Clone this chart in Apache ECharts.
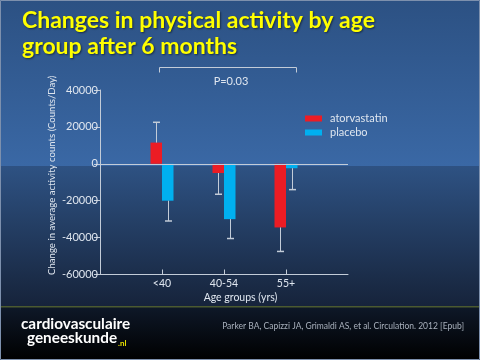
<!DOCTYPE html>
<html><head><meta charset="utf-8">
<script src="https://cdn.jsdelivr.net/npm/echarts@6/dist/echarts.min.js"></script>
<style>html,body{margin:0;padding:0;background:#000}#c{width:480px;height:360px}</style>
</head><body><div id="c"></div>
<script>
const categories = ['<40', '40-54', '55+'];
const atorvastatin = [11500, -5000, -34500];
const placebo = [-20000, -30000, -2400];
const atorvastatinErr = [22500, -16500, -47500];
const placeboErr = [-31000, -40500, -14000];
const yMin = -60000, yMax = 40000, yStep = 20000;

const axisData = [''].concat(categories, ['']);
const pad = arr => ['-'].concat(arr, ['-']);
const errData = (vals, errs) => vals.map((v, i) => [i + 1, v, errs[i]]);

const txt = '#dfe6ef';
const lineCol = '#c3ccd8';
const FONT = 'Lato';

function errItem(offset) {
  return function (params, api) {
    const a = api.coord([api.value(0), api.value(1)]);
    const e = api.coord([api.value(0), api.value(2)]);
    const cx = Math.round(a[0] + offset) + 0.5;
    return { type: 'group', children: [
      { type: 'line', shape: { x1: cx, y1: a[1], x2: cx, y2: e[1] }, style: { stroke: lineCol, lineWidth: 1 } },
      { type: 'line', shape: { x1: cx - 3.5, y1: e[1], x2: cx + 3.5, y2: e[1] }, style: { stroke: lineCol, lineWidth: 1.5 } }
    ]};
  };
}

const chart = echarts.init(document.getElementById('c'), null, { renderer: 'canvas' });
chart.setOption({
  animation: false,
  backgroundColor: '#000',
  textStyle: { fontFamily: FONT },
  title: {
    text: 'Changes in physical activity by age\ngroup after 6 months',
    left: 17, top: 3,
    textStyle: { color: '#ffff00', fontSize: 23, fontWeight: 'bold', fontFamily: FONT, lineHeight: 26,
      textShadowColor: 'rgba(0,0,0,0.5)', textShadowBlur: 2, textShadowOffsetX: 1, textShadowOffsetY: 1 }
  },
  legend: {
    orient: 'vertical', left: 300, top: 108, itemWidth: 17, itemHeight: 6, itemGap: 3,
    icon: 'rect',
    textStyle: { color: txt, fontSize: 11, fontFamily: FONT, padding: [0, 0, 0, 3] },
    data: ['atorvastatin', 'placebo']
  },
  grid: { left: 100, right: 132, top: 90, bottom: 85.5, containLabel: false },
  xAxis: {
    type: 'category', data: axisData, boundaryGap: false,
    axisLine: { onZero: false, lineStyle: { color: lineCol, width: 1 } },
    axisTick: { inside: true, length: 5, interval: (i) => i >= 1 && i <= categories.length, lineStyle: { color: lineCol } },
    axisLabel: { color: txt, fontSize: 10.5, margin: 4, interval: 0, fontFamily: FONT },
    splitLine: { show: false }
  },
  yAxis: {
    type: 'value', min: yMin, max: yMax, interval: yStep,
    name: 'Change in average activity counts (Counts/Day)', nameLocation: 'middle', nameGap: 43,
    nameMoveOverlap: false,
    nameTextStyle: { color: txt, fontSize: 9.6, fontFamily: FONT, padding: [0, 0, 0, 14] },
    axisLine: { show: true, lineStyle: { color: lineCol, width: 1 } },
    axisTick: { show: true, length: 6, lineStyle: { color: lineCol } },
    axisLabel: { color: txt, fontSize: 11, margin: 2, fontFamily: FONT, formatter: (v) => String(v) },
    splitLine: { show: false }
  },
  graphic: [
    { type: 'rect', z: -10, shape: { x: 0, y: 0, width: 480, height: 166 },
      style: { fill: new echarts.graphic.LinearGradient(0, 0, 0, 1, [{ offset: 0, color: '#2c5183' }, { offset: 1, color: '#3a68a5' }]) } },
    { type: 'rect', z: -10, shape: { x: 0, y: 166, width: 480, height: 141 },
      style: { fill: new echarts.graphic.LinearGradient(0, 0, 0, 1, [{ offset: 0, color: '#2e5283' }, { offset: 1, color: '#16233a' }]) } },
    { type: 'rect', z: -10, shape: { x: 0, y: 307, width: 480, height: 53 },
      style: { fill: new echarts.graphic.LinearGradient(0, 0, 0, 1, [{ offset: 0, color: '#0e1828' }, { offset: 1, color: '#000000' }]) } },
    { type: 'rect', z: -9, shape: { x: 0, y: 306, width: 480, height: 1.5 }, style: { fill: '#4b5a30' } },
    { type: 'rect', z: 100, shape: { x: 0.5, y: 0.5, width: 479, height: 359 }, style: { fill: null, stroke: '#7d90ad', lineWidth: 1 } },
    { type: 'polyline', shape: { points: [[159.5, 72.5], [159.5, 67.5], [296.5, 67.5], [296.5, 72.5]] },
      style: { stroke: lineCol, lineWidth: 1, fill: null } },
    { type: 'text', x: 231, y: 81, style: { text: 'P=0.03', fill: txt, font: '11px Lato', textAlign: 'center', textVerticalAlign: 'middle' } },
    { type: 'text', x: 240.5, y: 298, style: { text: 'Age groups (yrs)', fill: txt, font: '10.5px Lato', textAlign: 'center', textVerticalAlign: 'middle' } },
    { type: 'text', x: 21, y: 317, style: { text: 'cardiovasculaire', fill: '#ffffff', font: 'bold 15.3px Lato', textAlign: 'left', textVerticalAlign: 'top' } },
    { type: 'text', x: 27, y: 331, style: { text: 'geneeskunde', fill: '#ffffff', font: 'bold 15.3px Lato', textAlign: 'left', textVerticalAlign: 'top' } },
    { type: 'text', x: 118, y: 339, style: { text: '.nl', fill: '#e8e000', font: 'bold 8px Lato', textAlign: 'left', textVerticalAlign: 'top' } },
    { type: 'text', x: 464, y: 326, style: { text: 'Parker BA, Capizzi JA, Grimaldi AS, et al. Circulation. 2012 [Epub]', fill: '#a9b1bd', font: '8.5px Lato', textAlign: 'right', textVerticalAlign: 'middle' } }
  ],
  series: [
    { name: 'atorvastatin', type: 'bar', data: pad(atorvastatin), barWidth: 11.5, barGap: '0%',
      itemStyle: { color: '#ec1c24' },
      markLine: { silent: true, symbol: 'none', label: { show: false }, data: [{ yAxis: 0 }],
        lineStyle: { color: lineCol, type: 'solid', width: 1 } } },
    { name: 'placebo', type: 'bar', data: pad(placebo), barWidth: 11.5, barGap: '0%',
      itemStyle: { color: '#00b0f0' } },
    { name: 'atorvastatin err', type: 'custom', renderItem: errItem(-5.75), data: errData(atorvastatin, atorvastatinErr), z: 3 },
    { name: 'placebo err', type: 'custom', renderItem: errItem(5.75), data: errData(placebo, placeboErr), z: 3 }
  ]
});
</script></body></html>
